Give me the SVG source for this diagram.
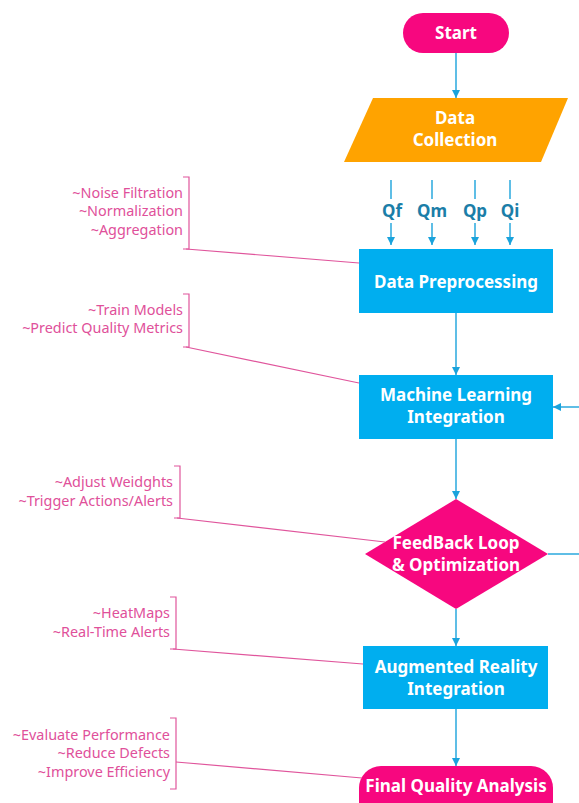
<svg xmlns="http://www.w3.org/2000/svg" width="579" height="803" viewBox="0 0 579 803">
<defs>
<marker id="ah" viewBox="0 0 10 10" refX="10" refY="5" markerWidth="8" markerHeight="8" markerUnits="userSpaceOnUse" orient="auto">
<path d="M0,0 L10,5 L0,10 z" fill="#1aa3dc"/>
</marker>
</defs>
<style>
.conn{stroke:#1aa3dc;stroke-width:1.4;fill:none}
.brk{stroke:#e0559c;stroke-width:1.2;fill:none}
.note{font-family:"Noto Sans","Liberation Sans",sans-serif;font-size:14.4px;fill:#e0509a;text-anchor:end}
.lbl{font-family:"Noto Sans","Liberation Sans",sans-serif;font-size:17px;font-weight:bold;fill:#ffffff;text-anchor:middle}
.q{font-family:"Noto Sans","Liberation Sans",sans-serif;font-size:17px;font-weight:bold;fill:#1b7ea8;text-anchor:middle}
.blue{fill:#00aeef}
.pink{fill:#f7077f}
</style>
<rect width="579" height="803" fill="#ffffff"/>

<g id="connectors">
<line class="conn" x1="456" y1="53" x2="456" y2="98" marker-end="url(#ah)"/>
<line class="conn" x1="391" y1="180" x2="391" y2="199"/>
<line class="conn" x1="432" y1="180" x2="432" y2="199"/>
<line class="conn" x1="475" y1="180" x2="475" y2="199"/>
<line class="conn" x1="510" y1="180" x2="510" y2="199"/>
<line class="conn" x1="391" y1="223" x2="391" y2="245" marker-end="url(#ah)"/>
<line class="conn" x1="432" y1="223" x2="432" y2="245" marker-end="url(#ah)"/>
<line class="conn" x1="475" y1="223" x2="475" y2="245" marker-end="url(#ah)"/>
<line class="conn" x1="510" y1="223" x2="510" y2="245" marker-end="url(#ah)"/>
<line class="conn" x1="456" y1="313" x2="456" y2="375" marker-end="url(#ah)"/>
<line class="conn" x1="456" y1="439" x2="456" y2="499" marker-end="url(#ah)"/>
<line class="conn" x1="456" y1="609" x2="456" y2="646" marker-end="url(#ah)"/>
<line class="conn" x1="456" y1="709" x2="456" y2="766" marker-end="url(#ah)"/>
<line class="conn" x1="548" y1="554" x2="579" y2="554"/>
<line class="conn" x1="579" y1="407" x2="553" y2="407" marker-end="url(#ah)"/>
</g>

<g id="start">
<rect class="pink" x="403" y="13" width="106" height="40" rx="20"/>
<text class="lbl" x="456" y="39">Start</text>
</g>

<g id="data-collection">
<polygon points="373,98 568,98 541,162 344,162" fill="#ffa300"/>
<text class="lbl" x="455" y="124">Data</text>
<text class="lbl" x="455" y="146">Collection</text>
</g>

<g id="q-labels">
<text class="q" x="392" y="217">Qf</text>
<text class="q" x="432" y="217">Qm</text>
<text class="q" x="475" y="217">Qp</text>
<text class="q" x="510" y="217">Qi</text>
</g>

<g id="data-preprocessing">
<rect class="blue" x="359" y="249" width="194" height="64"/>
<text class="lbl" x="456" y="288">Data Preprocessing</text>
</g>

<g id="machine-learning">
<rect class="blue" x="359" y="375" width="194" height="64"/>
<text class="lbl" x="456" y="401">Machine Learning</text>
<text class="lbl" x="456" y="423">Integration</text>
</g>

<g id="feedback-loop">
<polygon class="pink" points="456,499 548,554 456,609 365,554"/>
<text class="lbl" x="456" y="549">FeedBack Loop</text>
<text class="lbl" x="456" y="571">&amp; Optimization</text>
</g>

<g id="augmented-reality">
<rect class="blue" x="363" y="646" width="185" height="63"/>
<text class="lbl" x="456" y="673">Augmented Reality</text>
<text class="lbl" x="456" y="695">Integration</text>
</g>

<g id="final-quality">
<rect class="pink" x="359" y="766" width="194" height="60" rx="22"/>
<text class="lbl" x="456" y="792">Final Quality Analysis</text>
</g>

<g id="note-preprocessing">
<path class="brk" d="M183,177 H189 V249 H183"/>
<line class="brk" x1="186" y1="249" x2="359" y2="263"/>
<text class="note" x="183" y="198">~Noise Filtration</text>
<text class="note" x="183" y="216">~Normalization</text>
<text class="note" x="183" y="235">~Aggregation</text>
</g>

<g id="note-ml">
<path class="brk" d="M183,294 H189 V347 H183"/>
<line class="brk" x1="186" y1="347" x2="359" y2="383"/>
<text class="note" x="183" y="315">~Train Models</text>
<text class="note" x="183" y="333">~Predict Quality Metrics</text>
</g>

<g id="note-feedback">
<path class="brk" d="M174,466 H180 V518 H174"/>
<line class="brk" x1="177" y1="518" x2="385" y2="542"/>
<text class="note" x="173" y="487">~Adjust Weidghts</text>
<text class="note" x="173" y="506">~Trigger Actions/Alerts</text>
</g>

<g id="note-ar">
<path class="brk" d="M170,597 H176 V649 H170"/>
<line class="brk" x1="173" y1="649" x2="363" y2="664"/>
<text class="note" x="170" y="618">~HeatMaps</text>
<text class="note" x="170" y="637">~Real-Time Alerts</text>
</g>

<g id="note-final">
<path class="brk" d="M170,718 H176 V789 H170"/>
<line class="brk" x1="176" y1="762" x2="362" y2="778"/>
<text class="note" x="170" y="740">~Evaluate Performance</text>
<text class="note" x="170" y="758">~Reduce Defects</text>
<text class="note" x="170" y="777">~Improve Efficiency</text>
</g>
</svg>
